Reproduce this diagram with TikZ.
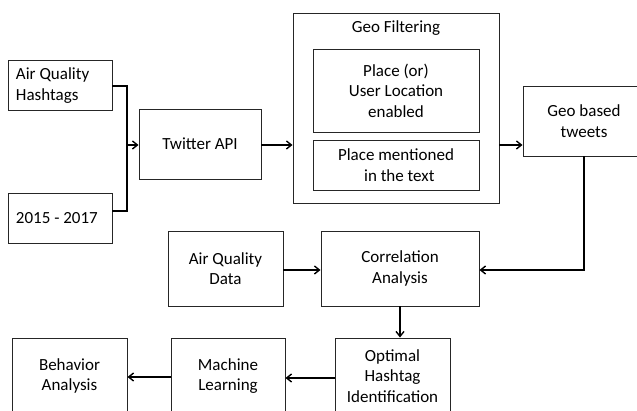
\documentclass[tikz,border=0pt]{standalone}
\usepackage{fontspec}
\setmainfont{Carlito}
\usetikzlibrary{arrows.meta, positioning}

\begin{document}
\begin{tikzpicture}[
        x=1pt, y=-1pt,
        every node/.style={font=\fontsize{17}{20.5}\selectfont},
        block/.style={draw=black!85, line width=0.9pt, rectangle, align=center, inner sep=0pt},
        leftblock/.style={block, align=flush left, text width=88pt},
        link/.style={draw, line width=1.4pt, -{Straight Barb[length=5pt, width=8pt]}},
        wire/.style={draw, line width=1.4pt}
        ]
        \clip (0,0) rectangle (637,411);

        \node [leftblock, minimum width=104pt, minimum height=50pt] (hashtags) at (60,85.5) {Air Quality\\Hashtags};
        \node [leftblock, minimum width=104pt, minimum height=50pt] (years) at (60,218) {2015 - 2017};
        \node [block, minimum width=122pt, minimum height=70pt] (twitter) at (200,144) {Twitter API};
        \node [block, minimum width=206pt, minimum height=190pt,
               label={[anchor=north, yshift=-5pt, font=\fontsize{17}{20.5}\selectfont]north:Geo Filtering}] (geo) at (396,108) {};
        \node [block, minimum width=166pt, minimum height=83pt] (place) at (396,90.5) {Place (or)\\User Location\\enabled};
        \node [block, minimum width=166pt, minimum height=50pt] (mention) at (396,165) {Place mentioned\\\ \,in the text};
        \node [block, minimum width=122pt, minimum height=70pt] (geotweets) at (584,121) {Geo based\\tweets};
        \node [block, minimum width=115pt, minimum height=75pt] (aqdata) at (225.5,268.5) {Air Quality\\Data};
        \node [block, minimum width=158pt, minimum height=75pt] (corr) at (400,268.5) {Correlation\\Analysis};
        \node [block, minimum width=115pt, minimum height=76pt] (optimal) at (392.5,376) {Optimal\\Hashtag\\Identification};
        \node [block, minimum width=114pt, minimum height=76pt] (machine) at (228,376) {Machine\\Learning};
        \node [block, minimum width=115pt, minimum height=76pt] (behavior) at (69.5,376) {Behavior\\Analysis};

        \coordinate (join) at (127,145);
        \draw [wire] ([yshift=-0.5pt]hashtags.east) -| (join) |- ([yshift=7pt]years.east);
        \draw [link] (join) -- (join -| twitter.west);
        \draw [link] (twitter.east |- join) -- (join -| geo.west);
        \draw [link] (geo.east |- join) -- (join -| geotweets.west);
        \draw [link] (geotweets.south) |- ([yshift=-1.5pt]corr.east);
        \draw [link] ([yshift=-1.5pt]aqdata.east) -- ([yshift=-1.5pt]corr.west);
        \draw [link] (corr.south) -- (corr.south |- optimal.north);
        \draw [link] ([yshift=-2pt]optimal.west) -- ([yshift=-2pt]machine.east);
        \draw [link] ([yshift=-1pt]machine.west) -- ([yshift=-1pt]behavior.east);
    \end{tikzpicture}
\end{document}
